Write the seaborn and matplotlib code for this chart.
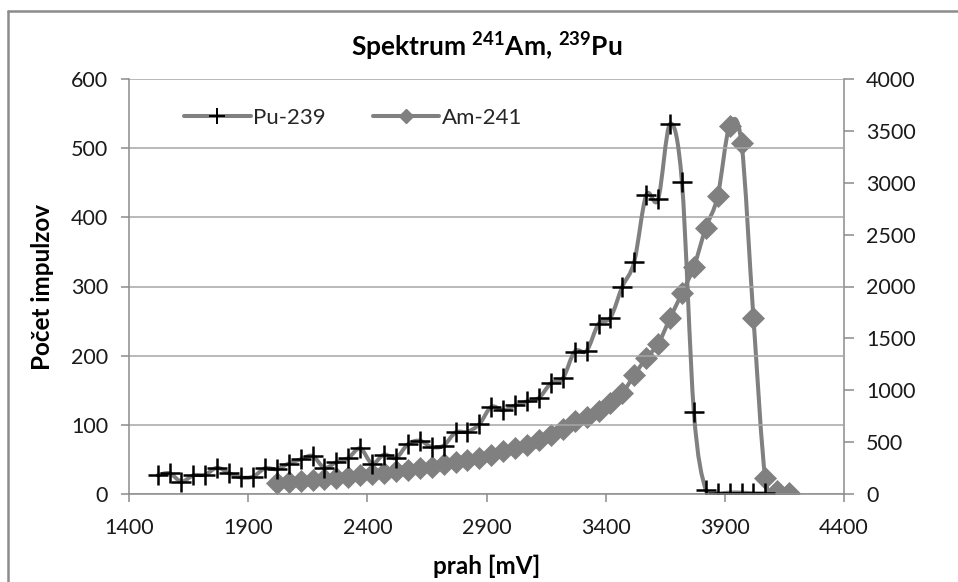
import numpy as np
import pandas as pd
import matplotlib
matplotlib.use("Agg")
import matplotlib.pyplot as plt
import seaborn as sns
from matplotlib.lines import Line2D
from matplotlib.path import Path
from matplotlib.patches import PathPatch

# ---------------- data ----------------
pu_x = [1520, 1570, 1620, 1670, 1720, 1770, 1820, 1870, 1920, 1970,
        2020, 2070, 2120, 2170, 2220, 2270, 2320, 2370, 2420, 2470,
        2520, 2570, 2620, 2670, 2720, 2770, 2820, 2870, 2920, 2970,
        3020, 3070, 3120, 3170, 3220, 3270, 3320, 3370, 3420, 3470,
        3520, 3570, 3620, 3670, 3720, 3770, 3820, 3870, 3920, 3970,
        4020, 4070]
pu_y = [27, 30, 18, 27, 28, 38, 30, 24, 25, 37,
        36, 44, 50, 55, 38, 46, 52, 66, 44, 57,
        52, 72, 77, 68, 70, 89, 90, 101, 126, 121,
        128, 134, 139, 160, 167, 206, 207, 246, 255, 300,
        336, 432, 426, 535, 451, 119, 6, 1, 2, 2,
        1, 1]

am_x = [2020, 2070, 2120, 2170, 2220, 2270, 2320, 2370, 2420, 2470,
        2520, 2570, 2620, 2670, 2720, 2770, 2820, 2870, 2920, 2970,
        3020, 3070, 3120, 3170, 3220, 3270, 3320, 3370, 3420, 3470,
        3520, 3570, 3620, 3670, 3720, 3770, 3820, 3870, 3920, 3970,
        4020, 4070, 4120, 4170]
am_y = [110, 120, 128, 138, 148, 158, 168, 180, 192, 205,
        220, 235, 250, 265, 285, 305, 330, 350, 380, 410,
        440, 470, 520, 565, 630, 700, 745, 800, 880, 975,
        1145, 1310, 1445, 1695, 1935, 2190, 2565, 2870, 3550, 3380,
        1700, 150, 30, 10]

x_ticks = [1400, 1900, 2400, 2900, 3400, 3900, 4400]
left_ticks = [0, 100, 200, 300, 400, 500, 600]
right_ticks = [0, 500, 1000, 1500, 2000, 2500, 3000, 3500, 4000]

title = r"Spektrum $^{\mathbf{241}}$Am, $^{\mathbf{239}}$Pu"
xlabel = "prah [mV]"
ylabel = "Počet impulzov"
pu_name = "Pu-239"
am_name = "Am-241"

# ---------------- style ----------------
sns.set_theme(style="white")
FONT = "Lato"
plt.rcParams["font.family"] = [FONT, "DejaVu Sans"]
plt.rcParams["mathtext.fontset"] = "custom"
plt.rcParams["mathtext.rm"] = FONT
plt.rcParams["mathtext.bf"] = FONT + ":bold"

LINE = "#808080"
SPINE = "#8c8c8c"
GRID = "#a6a6a6"
TXT = "#1a1a1a"
TICKFS = 15.5
LW = 2.9


def smooth_line(ax, xs, ys, **kw):
    """Excel-style smoothed connecting line (cubic Bezier through the data points)."""
    pts = np.column_stack([xs, ys]).astype(float)
    n = len(pts)
    verts = [pts[0]]
    codes = [Path.MOVETO]
    for i in range(n - 1):
        p0 = pts[i - 1] if i > 0 else pts[i]
        p1 = pts[i]
        p2 = pts[i + 1]
        p3 = pts[i + 2] if i + 2 < n else pts[i + 1]
        verts += [p1 + (p2 - p0) / 6.0, p2 - (p3 - p1) / 6.0, p2]
        codes += [Path.CURVE4] * 3
    patch = PathPatch(Path(verts, codes), facecolor="none", **kw)
    ax.add_patch(patch)
    return patch


fig = plt.figure(figsize=(9.58, 5.82), dpi=100)
ax = fig.add_axes([129 / 958, 1 - 494 / 582, (844 - 129) / 958, (494 - 79) / 582])
ax2 = ax.twinx()

pu_df = pd.DataFrame({"prah": pu_x, "count": pu_y})
am_df = pd.DataFrame({"prah": am_x, "count": am_y})

# Am-241 on secondary axis
smooth_line(ax2, am_df["prah"], am_df["count"], edgecolor=LINE, lw=LW,
            capstyle="round", joinstyle="round", zorder=1.8)
sns.lineplot(data=am_df, x="prah", y="count", ax=ax2, color=LINE, linestyle="",
             marker="D", markersize=11.5, markeredgecolor=LINE,
             markerfacecolor=LINE, markeredgewidth=0.5, legend=False, zorder=2)

# Pu-239 on primary axis
smooth_line(ax, pu_df["prah"], pu_df["count"], edgecolor=LINE, lw=LW,
            capstyle="round", joinstyle="round", zorder=1.8)
sns.lineplot(data=pu_df, x="prah", y="count", ax=ax, color=LINE, linestyle="",
             marker="+", markersize=14, markeredgecolor="black",
             markeredgewidth=1.8, legend=False, zorder=2)

# layering: primary (Pu) above secondary (Am)
ax.set_zorder(ax2.get_zorder() + 1)
ax.patch.set_visible(False)

ax.set_xlim(1400, 4400)
ax.set_ylim(0, 600)
ax2.set_ylim(0, 4000)
ax.set_xticks(x_ticks)
ax.set_yticks(left_ticks)
ax2.set_yticks(right_ticks)

ax.yaxis.grid(True, color=GRID, lw=1.1)
ax.xaxis.grid(False)
ax2.grid(False)

for a in (ax, ax2):
    for s in a.spines.values():
        s.set_color(SPINE)
        s.set_linewidth(1.1)
    a.spines["top"].set_visible(False)
ax.spines["right"].set_visible(False)
ax2.spines["left"].set_visible(False)
ax2.spines["bottom"].set_visible(False)

ax.tick_params(axis="both", which="major", direction="out", length=6,
               width=1.1, color=SPINE, labelsize=TICKFS, labelcolor=TXT, pad=9)
ax.tick_params(axis="x", pad=11)
ax.tick_params(axis="y", left=True)
ax.tick_params(axis="x", bottom=True)
ax2.tick_params(axis="y", direction="out", length=7, width=1.1, color=SPINE,
                labelsize=TICKFS, labelcolor=TXT, pad=9, right=True)

ax.set_xlabel(xlabel, fontsize=17.5, fontweight="bold", color="black", labelpad=12)
ax.set_ylabel(ylabel, fontsize=17.5, fontweight="bold", color="black", labelpad=12)
ax2.set_ylabel("")
ax.set_title(title, fontsize=19, fontweight="bold", color="black", pad=16)

handles = [
    Line2D([], [], color=LINE, lw=LW, marker="+", markersize=12,
           markeredgecolor="black", markeredgewidth=1.4),
    Line2D([], [], color=LINE, lw=LW, marker="D", markersize=7,
           markeredgecolor=LINE, markerfacecolor=LINE),
]
leg = ax2.legend(handles, [pu_name, am_name], ncol=2, loc="center left",
                 bbox_to_anchor=(0.077, 0.906), frameon=False,
                 fontsize=16, handlelength=3.0, handletextpad=0.12,
                 columnspacing=2.1, borderaxespad=0, borderpad=0)

# chart-area border (left and top edges visible)
fig.add_artist(Line2D([8 / 958, 8 / 958], [0, 1 - 11 / 582], color=SPINE, lw=1.8))
fig.add_artist(Line2D([8 / 958, 1], [1 - 11 / 582, 1 - 11 / 582], color=SPINE, lw=1.8))

fig.savefig("out.png", dpi=100)
